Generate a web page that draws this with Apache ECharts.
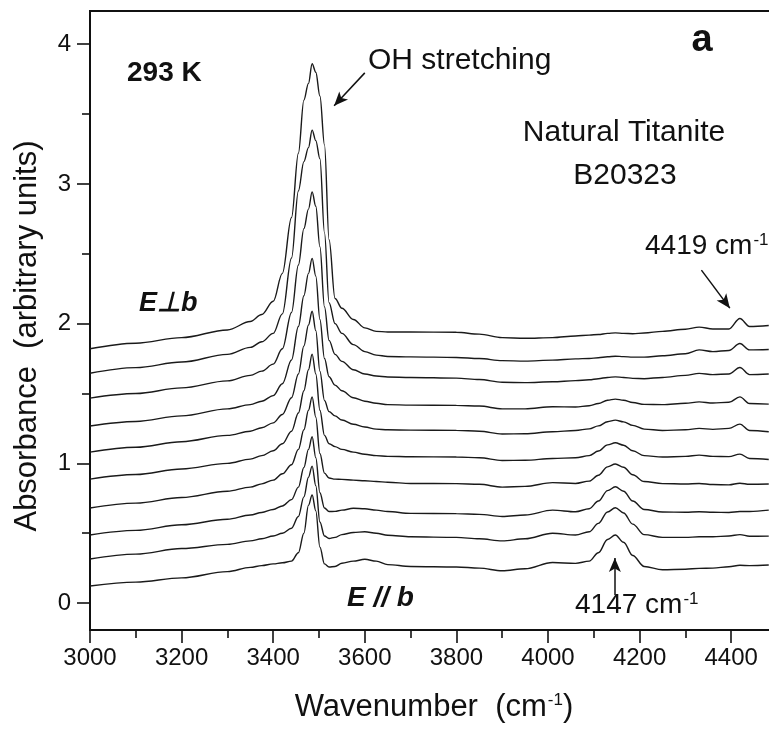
<!DOCTYPE html>
<html>
<head>
<meta charset="utf-8">
<title>Natural Titanite B20323 - 293 K</title>
<script src="https://cdn.jsdelivr.net/npm/echarts@6/dist/echarts.min.js"></script>
<style>
  html, body { margin: 0; padding: 0; background: #fff; }
  #chart { width: 769px; height: 733px; }
</style>
</head>
<body>
<div id="chart"></div>
<script>
// wavenumber sampling (cm-1), shared by every spectrum
const wavenumbers = [3000, 3100, 3200, 3300, 3350, 3375,
  3400, 3420, 3440, 3455, 3467, 3477, 3485, 3493, 3502, 3512, 3522, 3535, 3550, 3575, 3600,
  3625, 3650, 3700, 3800, 3850, 3900, 3950, 4010, 4060,
  4090, 4110, 4130, 4147, 4165, 4185, 4210, 4250,
  4300, 4330, 4360, 4395, 4419, 4440, 4482]

// spectra from top (E perpendicular b) to bottom (E // b), absorbance with offsets
const curve1 = [1.82, 1.86, 1.90, 1.955, 2.015, 2.065,
  2.16, 2.36, 2.76, 3.22, 3.60, 3.72, 3.86, 3.80, 3.63, 3.28, 2.60, 2.18, 2.11, 2.03, 1.97,
  1.945, 1.94, 1.94, 1.938, 1.925, 1.90, 1.895, 1.90, 1.912,
  1.918, 1.922, 1.93, 1.934, 1.93, 1.928, 1.933, 1.945,
  1.96, 1.975, 1.962, 1.962, 2.037, 1.98, 1.987]
const curve2 = [1.645, 1.685, 1.725, 1.78, 1.83, 1.87,
  1.93, 2.07, 2.47, 2.95, 3.16, 3.26, 3.385, 3.31, 3.18, 2.65, 2.15, 2.00, 1.93, 1.85, 1.80,
  1.775, 1.765, 1.762, 1.758, 1.75, 1.735, 1.732, 1.739, 1.748,
  1.751, 1.756, 1.763, 1.767, 1.764, 1.76, 1.76, 1.77,
  1.785, 1.812, 1.80, 1.808, 1.858, 1.812, 1.815]
const curve3 = [1.467, 1.50, 1.54, 1.59, 1.63, 1.66,
  1.71, 1.82, 2.08, 2.42, 2.68, 2.82, 2.943, 2.84, 2.55, 2.12, 1.88, 1.78, 1.73, 1.67, 1.64,
  1.625, 1.618, 1.615, 1.61, 1.60, 1.58, 1.578, 1.584, 1.592,
  1.598, 1.606, 1.615, 1.619, 1.615, 1.608, 1.606, 1.615,
  1.63, 1.644, 1.635, 1.64, 1.686, 1.635, 1.639]
const curve4 = [1.267, 1.30, 1.34, 1.39, 1.42, 1.445,
  1.485, 1.57, 1.74, 1.98, 2.20, 2.36, 2.467, 2.34, 2.03, 1.75, 1.62, 1.56, 1.52, 1.47, 1.445,
  1.43, 1.42, 1.417, 1.415, 1.41, 1.39, 1.39, 1.405, 1.403,
  1.412, 1.428, 1.452, 1.46, 1.452, 1.435, 1.422, 1.42,
  1.43, 1.44, 1.432, 1.437, 1.476, 1.428, 1.424]
const curve5 = [1.08, 1.115, 1.155, 1.20, 1.23, 1.255,
  1.29, 1.35, 1.47, 1.64, 1.84, 1.99, 2.089, 1.95, 1.66, 1.45, 1.37, 1.34, 1.31, 1.28, 1.26,
  1.245, 1.24, 1.238, 1.236, 1.23, 1.21, 1.212, 1.226, 1.235,
  1.247, 1.268, 1.298, 1.309, 1.297, 1.272, 1.245, 1.235,
  1.24, 1.25, 1.243, 1.25, 1.281, 1.235, 1.226]
const curve6 = [0.887, 0.92, 0.96, 1.00, 1.03, 1.055,
  1.09, 1.14, 1.23, 1.36, 1.52, 1.67, 1.782, 1.64, 1.38, 1.20, 1.14, 1.12, 1.10, 1.08, 1.065,
  1.055, 1.05, 1.047, 1.045, 1.04, 1.02, 1.022, 1.035, 1.04,
  1.055, 1.088, 1.132, 1.147, 1.13, 1.09, 1.055, 1.045,
  1.05, 1.059, 1.05, 1.048, 1.066, 1.035, 1.028]
const curve7 = [0.68, 0.715, 0.755, 0.80, 0.83, 0.853,
  0.88, 0.925, 0.99, 1.10, 1.24, 1.38, 1.476, 1.33, 1.07, 0.93, 0.895, 0.887, 0.885, 0.88, 0.875,
  0.87, 0.865, 0.856, 0.855, 0.85, 0.83, 0.835, 0.862, 0.856,
  0.873, 0.915, 0.975, 0.995, 0.972, 0.918, 0.87, 0.855,
  0.852, 0.856, 0.848, 0.846, 0.858, 0.85, 0.852]
const curve8 = [0.487, 0.52, 0.56, 0.60, 0.63, 0.648,
  0.67, 0.695, 0.74, 0.83, 0.97, 1.10, 1.19, 1.04, 0.79, 0.68, 0.655, 0.656, 0.665, 0.678, 0.675,
  0.665, 0.655, 0.642, 0.64, 0.635, 0.62, 0.63, 0.665, 0.653,
  0.675, 0.73, 0.805, 0.832, 0.80, 0.73, 0.67, 0.652,
  0.65, 0.653, 0.65, 0.648, 0.655, 0.655, 0.665]
const curve9 = [0.315, 0.35, 0.39, 0.42, 0.445, 0.46,
  0.48, 0.50, 0.535, 0.62, 0.76, 0.90, 0.98, 0.84, 0.58, 0.48, 0.462, 0.47, 0.49, 0.505, 0.51,
  0.50, 0.485, 0.474, 0.47, 0.46, 0.445, 0.46, 0.50, 0.487,
  0.51, 0.57, 0.652, 0.682, 0.645, 0.565, 0.49, 0.47,
  0.47, 0.474, 0.475, 0.48, 0.49, 0.478, 0.479]
const curve10 = [0.122, 0.15, 0.18, 0.225, 0.255, 0.268,
  0.28, 0.288, 0.30, 0.36, 0.50, 0.70, 0.773, 0.66, 0.40, 0.28, 0.258, 0.262, 0.285, 0.30, 0.313,
  0.30, 0.275, 0.262, 0.258, 0.25, 0.231, 0.245, 0.29, 0.284,
  0.30, 0.36, 0.455, 0.487, 0.435, 0.34, 0.262, 0.238,
  0.242, 0.248, 0.25, 0.26, 0.27, 0.268, 0.272]

const xTicks = [3000, 3200, 3400, 3600, 3800, 4000, 4200, 4400]
const xMinorTicks = [3100, 3300, 3500, 3700, 3900, 4100, 4300]
const yTicks = [0, 1, 2, 3, 4]
const yMinorTicks = [0.5, 1.5, 2.5, 3.5]

const curves = [curve1, curve2, curve3, curve4, curve5, curve6, curve7, curve8, curve9, curve10]

const fontFamily = '"Liberation Sans", Arial, Helvetica, sans-serif'
const ink = '#111'

const chart = echarts.init(document.getElementById('chart'))

const series = curves.map((values, i) => ({
  name: 'spectrum ' + (i + 1),
  type: 'line',
  xAxisIndex: 0,
  yAxisIndex: 0,
  data: wavenumbers.map((w, k) => [w, values[k]]),
  showSymbol: false,
  smooth: 0.35,
  smoothMonotone: 'x',
  lineStyle: { color: '#1a1a1a', width: 1.4 },
  animation: false
}))

// annotation arrows, placed in data coordinates
series[0].markLine = {
  silent: true,
  symbol: ['none', 'arrow'],
  symbolSize: [9, 14],
  label: { show: false },
  lineStyle: { color: ink, width: 1.5, type: 'solid' },
  animation: false,
  data: [
    [{ coord: [3600, 3.795] }, { coord: [3533, 3.56] }],
    [{ coord: [4335, 2.383] }, { coord: [4397, 2.111] }],
    [{ coord: [4146, 0.057] }, { coord: [4146, 0.322] }]
  ]
}

const supStyle = { fontSize: 17, fontFamily: fontFamily, fill: ink, verticalAlign: 'top', padding: [0, 0, 0, 1] }

chart.setOption({
  backgroundColor: '#fff',
  animation: false,
  grid: {
    left: 90,
    right: -8,
    top: 11,
    bottom: 103,
    show: true,
    borderColor: ink,
    borderWidth: 2,
    outerBoundsMode: 'none'
  },
  xAxis: [{
    type: 'value',
    min: 3000,
    max: 4500,
    axisLine: { onZero: false, lineStyle: { color: ink, width: 2 } },
    axisTick: { customValues: xTicks, length: 13, lineStyle: { color: ink, width: 1.6 } },
    axisLabel: {
      customValues: xTicks,
      formatter: v => String(v),
      color: ink,
      fontSize: 24,
      fontFamily: fontFamily,
      margin: 16
    },
    splitLine: { show: false }
  }, {
    type: 'value',
    position: 'bottom',
    min: 3000,
    max: 4500,
    axisLine: { show: false, onZero: false },
    axisTick: { customValues: xMinorTicks, length: 8, lineStyle: { color: ink, width: 1.6 } },
    axisLabel: { show: false },
    splitLine: { show: false }
  }],
  yAxis: [{
    type: 'value',
    min: -0.193,
    max: 4.238,
    axisLine: { show: true, onZero: false, lineStyle: { color: ink, width: 2 } },
    axisTick: { show: true, customValues: yTicks, length: 13, lineStyle: { color: ink, width: 1.6 } },
    axisLabel: { customValues: yTicks, color: ink, fontSize: 24, fontFamily: fontFamily, margin: 19 },
    splitLine: { show: false }
  }, {
    type: 'value',
    position: 'left',
    min: -0.193,
    max: 4.238,
    axisLine: { show: false, onZero: false },
    axisTick: { show: true, customValues: yMinorTicks, length: 8, lineStyle: { color: ink, width: 1.6 } },
    axisLabel: { show: false },
    splitLine: { show: false }
  }],
  graphic: [
    { type: 'text', x: 127, y: 73, style: { text: '293 K', fontSize: 28, fontWeight: 'bold', fontFamily: fontFamily, fill: ink, align: 'left', verticalAlign: 'middle' } },
    { type: 'text', x: 368, y: 61, style: { text: 'OH stretching', fontSize: 30, fontFamily: fontFamily, fill: ink, align: 'left', verticalAlign: 'middle' } },
    { type: 'text', x: 702, y: 41, style: { text: 'a', fontSize: 38, fontWeight: 'bold', fontFamily: fontFamily, fill: ink, align: 'center', verticalAlign: 'middle' } },
    { type: 'text', x: 624, y: 133, style: { text: 'Natural Titanite', fontSize: 30, fontFamily: fontFamily, fill: ink, align: 'center', verticalAlign: 'middle' } },
    { type: 'text', x: 625, y: 176, style: { text: 'B20323', fontSize: 30, fontFamily: fontFamily, fill: ink, align: 'center', verticalAlign: 'middle' } },
    { type: 'text', x: 645, y: 246, style: { text: '4419 cm{s|-1}', rich: { s: supStyle }, fontSize: 28, fontFamily: fontFamily, fill: ink, align: 'left', verticalAlign: 'middle' } },
    { type: 'text', x: 139, y: 304, style: { text: 'E⊥b', fontSize: 27, fontWeight: 'bold', fontStyle: 'italic', fontFamily: fontFamily, fill: ink, align: 'left', verticalAlign: 'middle' } },
    { type: 'text', x: 347, y: 598, style: { text: 'E // b', fontSize: 28, fontWeight: 'bold', fontStyle: 'italic', fontFamily: fontFamily, fill: ink, align: 'left', verticalAlign: 'middle' } },
    { type: 'text', x: 575, y: 605, style: { text: '4147 cm{s|-1}', rich: { s: supStyle }, fontSize: 28, fontFamily: fontFamily, fill: ink, align: 'left', verticalAlign: 'middle' } },
    { type: 'text', x: 434, y: 707, style: { text: 'Wavenumber  (cm{s|-1})', rich: { s: supStyle }, fontSize: 31, fontFamily: fontFamily, fill: ink, align: 'center', verticalAlign: 'middle' } },
    { type: 'text', x: 27, y: 336, rotation: Math.PI / 2, style: { text: 'Absorbance  (arbitrary units)', fontSize: 31, fontFamily: fontFamily, fill: ink, align: 'center', verticalAlign: 'middle' } }
  ],
  series: series
})
</script>
</body>
</html>
